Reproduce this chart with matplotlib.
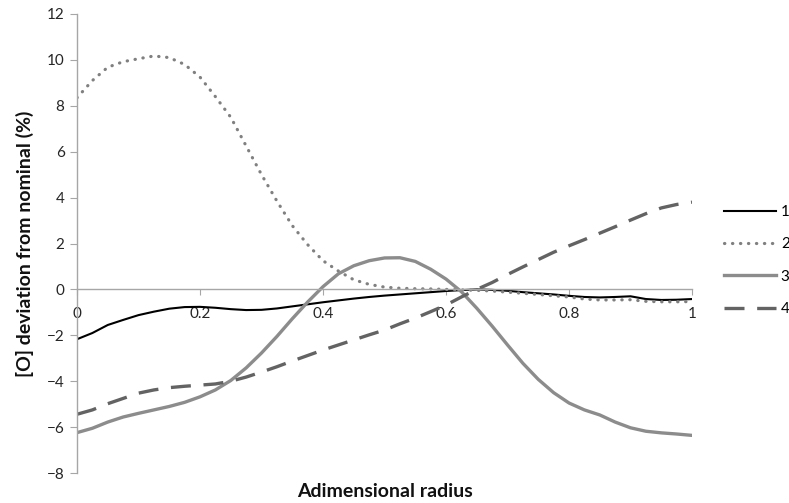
import matplotlib.pyplot as plt

plt.rcParams['font.family'] = ['Lato', 'DejaVu Sans']

# adimensional radius (common grid)
radius = [0, 0.025, 0.05, 0.075, 0.1, 0.125, 0.15, 0.175, 0.2, 0.225,
          0.25, 0.275, 0.3, 0.325, 0.35, 0.375, 0.4, 0.425, 0.45, 0.475,
          0.5, 0.525, 0.55, 0.575, 0.6, 0.625, 0.65, 0.675, 0.7, 0.725,
          0.75, 0.775, 0.8, 0.825, 0.85, 0.875, 0.9, 0.925, 0.95, 0.975, 1.0]

dev1 = [-2.17, -1.9, -1.55, -1.33, -1.12, -0.97, -0.84, -0.77, -0.76, -0.8,
        -0.86, -0.9, -0.89, -0.83, -0.74, -0.65, -0.56, -0.48, -0.4, -0.33,
        -0.27, -0.22, -0.17, -0.12, -0.07, -0.03, 0.0, -0.02, -0.06, -0.12,
        -0.17, -0.22, -0.28, -0.33, -0.35, -0.33, -0.3, -0.42, -0.46, -0.45, -0.42]

dev2 = [8.35, 9.1, 9.68, 9.92, 10.05, 10.17, 10.1, 9.8, 9.25, 8.4,
        7.5, 6.25, 5.0, 3.85, 2.78, 1.95, 1.25, 0.8, 0.42, 0.22,
        0.1, 0.05, 0.03, 0.02, 0.0, -0.02, -0.04, -0.07, -0.12, -0.17,
        -0.22, -0.28, -0.33, -0.42, -0.46, -0.46, -0.45, -0.52, -0.54, -0.54, -0.53]

dev3 = [-6.24, -6.05, -5.78, -5.56, -5.4, -5.25, -5.1, -4.92, -4.68, -4.38,
        -3.97, -3.42, -2.77, -2.05, -1.28, -0.55, 0.12, 0.68, 1.03, 1.25,
        1.37, 1.38, 1.22, 0.88, 0.45, -0.1, -0.82, -1.6, -2.42, -3.22,
        -3.92, -4.5, -4.95, -5.25, -5.47, -5.78, -6.03, -6.18, -6.25, -6.3, -6.36]

dev4 = [-5.44, -5.25, -4.98, -4.75, -4.52, -4.38, -4.28, -4.22, -4.17, -4.12,
        -4.0, -3.82, -3.6, -3.37, -3.12, -2.88, -2.64, -2.42, -2.2, -1.98,
        -1.77, -1.5, -1.25, -0.97, -0.68, -0.33, 0.0, 0.3, 0.65, 0.98,
        1.3, 1.62, 1.9, 2.17, 2.45, 2.73, 3.02, 3.3, 3.55, 3.7, 3.8]

xticks = [0, 0.2, 0.4, 0.6, 0.8, 1]
xtick_labels = ['0', '0.2', '0.4', '0.6', '0.8', '1']
yticks = [-8, -6, -4, -2, 0, 2, 4, 6, 8, 10, 12]

fig = plt.figure(figsize=(7.89, 5.03), dpi=100)
ax = fig.add_axes([0.0976, 0.0596, 0.7795, 0.9126])

ax.plot(radius, dev1, color='black', lw=1.5, label='1')
ax.plot(radius, dev2, color='#808080', lw=2.3, dashes=(0.1, 2.4),
        dash_capstyle='round', label='2')
ax.plot(radius, dev3, color='#8c8c8c', lw=2.4, label='3')
ax.plot(radius, dev4, color='#636363', lw=2.4, dashes=(6, 3.8), label='4')

ax.set_xlim(0, 1)
ax.set_ylim(-8, 12)
ax.set_yticks(yticks)
ax.set_xticks(xticks)
ax.set_xticklabels(xtick_labels)

axis_gray = '#a6a6a6'
for s in ['top', 'right']:
    ax.spines[s].set_visible(False)
ax.spines['bottom'].set_position(('data', 0))
ax.spines['bottom'].set_color(axis_gray)
ax.spines['left'].set_color(axis_gray)
ax.spines['bottom'].set_linewidth(1.0)
ax.spines['left'].set_linewidth(1.0)

ax.tick_params(axis='y', direction='out', length=5, color=axis_gray,
               labelsize=11, labelcolor='#262626', pad=4)
ax.tick_params(axis='x', direction='out', length=4, color=axis_gray,
               labelsize=11, labelcolor='#262626', pad=9)

ax.set_ylabel('[O] deviation from nominal (%)', fontsize=14,
              fontweight='bold', color='#111111')
ax.yaxis.set_label_coords(-0.07, 0.5)
ax.set_xlabel('Adimensional radius', fontsize=14, fontweight='bold',
              color='#111111')
ax.xaxis.set_label_coords(0.5, -0.022)

fig.legend(loc='center left', bbox_to_anchor=(0.918, 0.482), frameon=False,
           fontsize=11, handlelength=3.4, handletextpad=0.3,
           labelspacing=1.2, borderpad=0, borderaxespad=0)

fig.savefig('out.png', dpi=100)
